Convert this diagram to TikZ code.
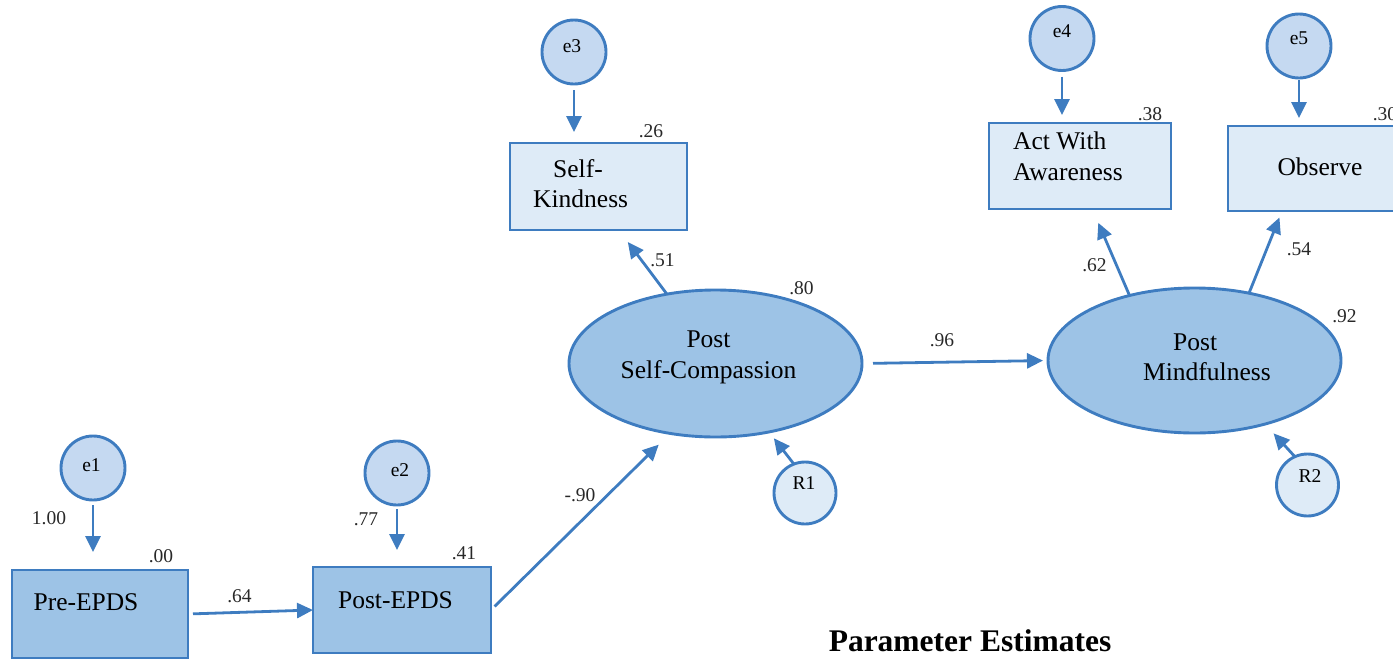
\documentclass[tikz,border=0pt]{standalone}
\usepackage{fontspec}
\setmainfont{Liberation Serif}
\usetikzlibrary{arrows.meta,shapes.geometric}

\definecolor{edge}{RGB}{62,124,192}
\definecolor{darkfill}{RGB}{157,195,230}
\definecolor{lightfill}{RGB}{222,235,247}
\definecolor{errfill}{RGB}{197,217,241}
\definecolor{numcol}{RGB}{40,40,40}

\tikzset{
  obsbox/.style={draw=edge, line width=2.9pt, rectangle, inner sep=0pt, outer sep=0pt},
  darkbox/.style={obsbox, fill=darkfill},
  lightbox/.style={obsbox, fill=lightfill},
  latent/.style={draw=edge, line width=2.9pt, ellipse, fill=darkfill, inner sep=0pt, outer sep=0pt,
    minimum width=293pt, minimum height=147pt},
  errc/.style={draw=edge, line width=2.9pt, circle, fill=errfill, inner sep=0pt, outer sep=0pt,
    minimum size=64pt},
  resc/.style={draw=edge, line width=2.9pt, circle, fill=lightfill, inner sep=0pt, outer sep=0pt,
    minimum size=62pt},
  arr/.style={draw=edge, line width=2.8pt, -{Triangle[length=16pt,width=15pt]}},
  boxtxt/.style={inner sep=0pt, font=\fontsize{25.5}{30}\selectfont},
  num/.style={inner sep=0pt, text=numcol, font=\fontsize{19.5}{22}\selectfont},
  title/.style={inner sep=0pt, font=\fontsize{31.5}{36}\selectfont\bfseries}
}

\begin{document}
\begin{tikzpicture}[x=1pt,y=-1pt]
\useasboundingbox (0,0) rectangle (1393,659);
\clip (0,0) rectangle (1393,659);

% observed variables
\node[darkbox, minimum width=176pt, minimum height=88pt] (pre) at (100,614) {};
\node[darkbox, minimum width=178pt, minimum height=86pt] (post) at (402,610) {};
\node[lightbox, minimum width=177pt, minimum height=87pt] (sk) at (598.5,186.5) {};
\node[lightbox, minimum width=182pt, minimum height=86pt] (awa) at (1080,166) {};
\node[lightbox, minimum width=182pt, minimum height=85pt] (obs) at (1319,168.5) {};

% latent variables
\node[latent] (sc) at (715.5,363.5) {};
\node[latent, minimum height=145pt] (pm) at (1194.5,360.5) {};

% error and residual terms
\node[errc] (e1) at (93,468) {};
\node[errc] (e2) at (397,473) {};
\node[errc] (e3) at (574,52) {};
\node[errc] (e4) at (1062,38.5) {};
\node[errc] (e5) at (1299,46) {};
\node[resc] (r1) at (805,493) {};
\node[resc] (r2) at (1307.5,485) {};

% box and ellipse texts
\node[boxtxt, anchor=base] (preT) at (86,610) {Pre-EPDS};
\node[boxtxt, anchor=base] (postT) at (395.5,608) {Post-EPDS};
\node[boxtxt, anchor=base west] (skA) at (553,177) {Self-};
\node[boxtxt, anchor=base west] (skB) at (533,207) {Kindness};
\node[boxtxt, anchor=base west] (awaA) at (1013,149) {Act With};
\node[boxtxt, anchor=base west] (awaB) at (1013,180) {Awareness};
\node[boxtxt, anchor=base] (obsT) at (1320,175) {Observe};
\node[boxtxt, anchor=base] (scA) at (708.5,347) {Post};
\node[boxtxt, anchor=base] (scB) at (708.5,378) {Self-Compassion};
\node[boxtxt, anchor=base west] (pmA) at (1173,350) {Post};
\node[boxtxt, anchor=base west] (pmB) at (1143,380) {Mindfulness};

% circle texts
\node[num, text=black] (e1T) at (91.5,465) {e1};
\node[num, text=black] (e2T) at (400,470) {e2};
\node[num, text=black] (e3T) at (572,46) {e3};
\node[num, text=black] (e4T) at (1062,31.5) {e4};
\node[num, text=black] (e5T) at (1299,38.5) {e5};
\node[num, text=black] (r1T) at (804,483.5) {R1};
\node[num, text=black] (r2T) at (1310,476) {R2};

% paths
\draw[arr, shorten <=5pt, shorten >=18pt] (e1.south) -- (e1.south |- pre.north);
\draw[arr, shorten <=4pt, shorten >=17pt] (e2.south) -- (e2.south |- post.north);
\draw[arr, shorten <=6pt, shorten >=11pt] (e3.south) -- (e3.south |- sk.north);
\draw[arr, shorten <=6pt, shorten >=8pt] (e4.south) -- (e4.south |- awa.north);
\draw[arr, shorten <=2pt, shorten >=8pt] (e5.south) -- (e5.south |- obs.north);
\draw[arr, shorten <=5pt] (pre.east) -- (post.west);
\draw[arr, shorten <=5pt, shorten >=16pt] (post.east) -- (sc.237.4);
\draw[arr, shorten >=15pt] (sc.125.4) -- (sk.295);
\draw[arr, shorten >=8pt] (r1.111) -- (sc.308.8);
\draw[arr, shorten <=11pt, shorten >=5pt] (sc.east) -- (pm.west);
\draw[arr, shorten >=15pt] (pm.135.9) -- (awa.286);
\draw[arr, shorten >=7pt] (pm.51) -- (obs.229.5);
\draw[arr, shorten >=12.6pt] (r2.114) -- (pm.318.8);

% estimates
\node[num] (n100) at (49,518) {1.00};
\node[num] (n00) at (161,556) {.00};
\node[num] (n64) at (239.5,596) {.64};
\node[num] (n77) at (366,519) {.77};
\node[num] (n41) at (464,553) {.41};
\node[num] (n26) at (651,131) {.26};
\node[num] (n51) at (662.5,260) {.51};
\node[num] (n80) at (801.5,288.5) {.80};
\node[num] (n90) at (580,495) {-.90};
\node[num] (n96) at (942,340) {.96};
\node[num] (n38) at (1150,114) {.38};
\node[num] (n30) at (1385,114) {.30};
\node[num] (n62) at (1094.5,265.5) {.62};
\node[num] (n54) at (1299,249.5) {.54};
\node[num] (n92) at (1344.5,316.5) {.92};

\node[title, anchor=base] (ttl) at (970,651) {Parameter Estimates};
\end{tikzpicture}
\end{document}
